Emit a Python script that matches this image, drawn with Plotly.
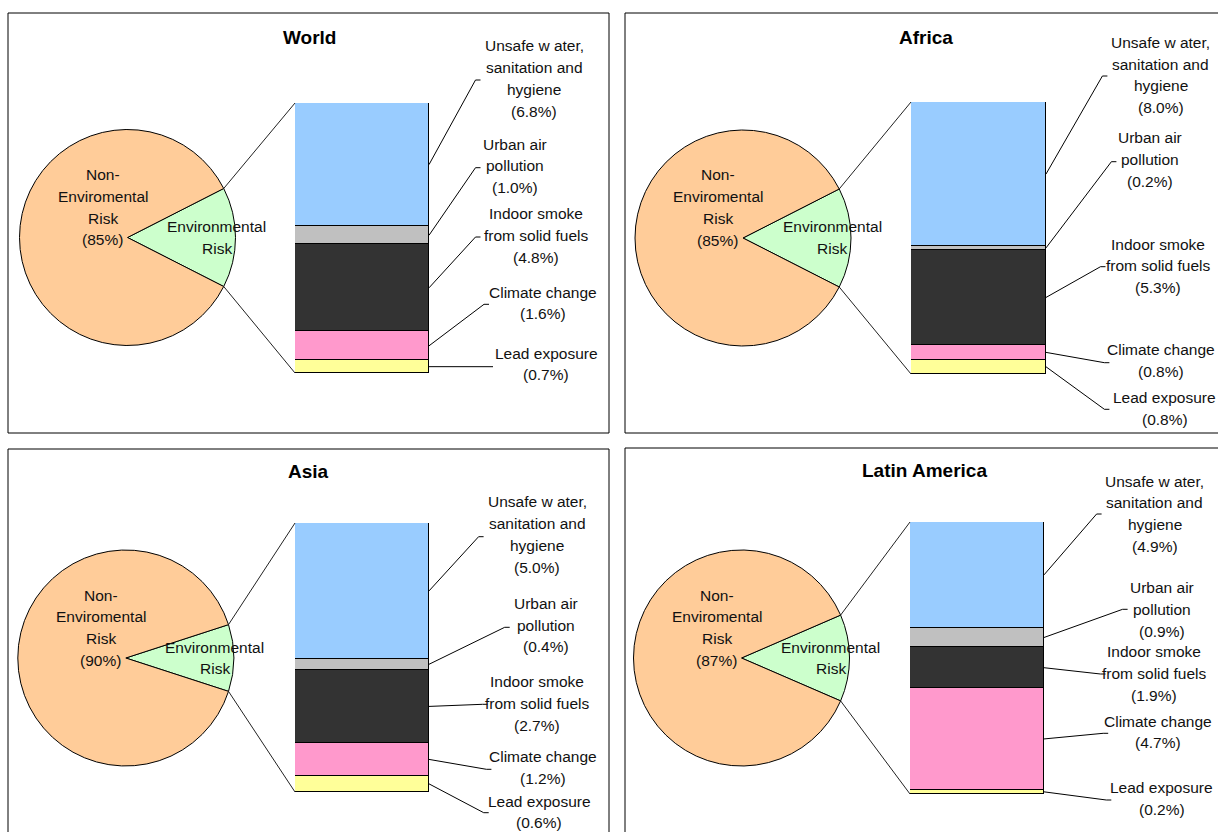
import math
import plotly.graph_objects as go

W, H = 1218, 832

# ---------------- data ----------------
regions = ["World", "Africa", "Asia", "Latin America"]
non_env = [85, 85, 90, 87]
env = [15, 15, 10, 13]
categories = ["Unsafe w ater,\nsanitation and\nhygiene", "Urban air\npollution",
              "Indoor smoke\nfrom solid fuels", "Climate change", "Lead exposure"]
unsafe_water = [6.8, 8.0, 5.0, 4.9]
urban_air = [1.0, 0.2, 0.4, 0.9]
indoor_smoke = [4.8, 5.3, 2.7, 1.9]
climate_change = [1.6, 0.8, 1.2, 4.7]
lead_exposure = [0.7, 0.8, 0.6, 0.2]

series = [unsafe_water, urban_air, indoor_smoke, climate_change, lead_exposure]
seg_colors = ["#99CCFF", "#C0C0C0", "#333333", "#FF99CC", "#FFFF99"]
pie_colors = ["#CCFFCC", "#FFCC99"]

# ---------------- layout (pixel positions) ----------------
panels = [
    dict(frame=(8, 13, 609, 433), title=(309, 38), pie=(127.5, 237.5), bar=(295, 103, 429, 373),
         lab_x=[534, 515, 536, 543, 546], lab_y=[45.7, 144, 214, 292, 353],
         lead_end=[(475.5, 80), (475.5, 167.7), (475.5, 237), (484, 304.3), (488, 366.7)]),
    dict(frame=(625, 13, 1228, 433), title=(926, 38), pie=(743, 238), bar=(911, 102, 1046, 374),
         lab_x=[1160.6, 1150, 1157.5, 1160.6, 1164.5], lab_y=[42.3, 138, 244, 350, 397.7],
         lead_end=[(1102.4, 76), (1111.4, 161.7), (1100.5, 266.7), (1104.4, 362.7), (1104.4, 409.3)]),
    dict(frame=(8, 449, 609, 840), title=(308.6, 471.7), pie=(125.8, 658), bar=(295, 523, 429, 792),
         lab_x=[537, 546, 537, 543, 539], lab_y=[501.7, 603.3, 681.7, 756.7, 801],
         lead_end=[(478.6, 536.7), (504.7, 627.3), (482.5, 704.3), (486.4, 769.3), (483.7, 812.7)]),
    dict(frame=(625, 448, 1228, 840), title=(924, 470.7), pie=(741.5, 658), bar=(910, 522, 1044, 794),
         lab_x=[1154.8, 1161.8, 1154, 1158, 1161.8], lab_y=[481, 587.7, 651.7, 721, 787.7],
         lead_end=[(1096.6, 514), (1122.6, 609.3), (1100.5, 674), (1103.2, 733.3), (1106.3, 800)]),
]
R = 108
LINE_H = 21.8
FONT = "Liberation Sans, Arial, sans-serif"
LABEL_SIZE = 15.5
TITLE_SIZE = 19


def px(x):
    return x / W


def py(y):
    return 1 - y / H


fig = go.Figure()
shapes = []
annotations = []


def add_lines(x, y, lines, size=LABEL_SIZE):
    for k, ln in enumerate(lines):
        annotations.append(dict(x=px(x), y=py(y + k * LINE_H), xref="paper", yref="paper",
                                text=ln, showarrow=False, xanchor="center", yanchor="middle",
                                font=dict(family=FONT, size=size, color="#111111")))


for i, p in enumerate(panels):
    fx0, fy0, fx1, fy1 = p["frame"]
    shapes.append(dict(type="rect", xref="paper", yref="paper", x0=px(fx0), x1=px(fx1),
                       y0=py(fy1), y1=py(fy0), line=dict(color="#000000", width=1),
                       fillcolor="rgba(0,0,0,0)", layer="below"))
    # title
    annotations.append(dict(x=px(p["title"][0]), y=py(p["title"][1]), xref="paper", yref="paper",
                            text=f"<b>{regions[i]}</b>", showarrow=False, xanchor="center",
                            yanchor="middle", font=dict(family=FONT, size=TITLE_SIZE, color="#000000")))
    # pie
    cx, cy = p["pie"]
    env_deg = 360 * env[i] / (env[i] + non_env[i])
    fig.add_trace(go.Pie(values=[env[i], non_env[i]], labels=["Environmental Risk", "Non-Enviromental Risk"],
                         sort=False, direction="clockwise", rotation=90 - env_deg / 2,
                         marker=dict(colors=pie_colors, line=dict(color="#000000", width=1)),
                         textinfo="none", hoverinfo="label+percent",
                         domain=dict(x=[px(cx - R), px(cx + R)], y=[py(cy + R), py(cy - R)])))
    add_lines(cx - 25, cy - 63, ["Non-", "Enviromental", "Risk", f"({non_env[i]}%)"])
    add_lines(cx + 89, cy - 11, ["Environmental", "Risk"])
    # bar
    bx0, by0, bx1, by1 = p["bar"]
    xa = "x" if i == 0 else f"x{i + 1}"
    ya = "y" if i == 0 else f"y{i + 1}"
    total = sum(s[i] for s in series)
    for j in reversed(range(len(series))):
        fig.add_trace(go.Bar(x=[0], y=[series[j][i]], width=1, xaxis=xa, yaxis=ya,
                             marker=dict(color=seg_colors[j], line=dict(color="#000000", width=1)),
                             name=categories[j].replace("\n", " "), hoverinfo="name+y"))
    axkey = "" if i == 0 else str(i + 1)
    fig.update_layout(**{
        f"xaxis{axkey}": dict(domain=[px(bx0), px(bx1)], range=[-0.5, 0.5], visible=False, fixedrange=True),
        f"yaxis{axkey}": dict(domain=[py(by1), py(by0)], range=[0, total], visible=False, fixedrange=True),
    })
    # connectors pie -> bar
    a = math.radians(env_deg / 2)
    ex, ey_up, ey_dn = cx + R * math.cos(a), cy - R * math.sin(a), cy + R * math.sin(a)
    for (sx, sy, tx, ty) in [(ex, ey_up, bx0, by0), (ex, ey_dn, bx0, by1)]:
        shapes.append(dict(type="line", xref="paper", yref="paper", x0=px(sx), y0=py(sy),
                           x1=px(tx), y1=py(ty), line=dict(color="#222222", width=1)))
    # labels and leaders
    cum = 0.0
    for j in range(len(series)):
        v = series[j][i]
        mid = by0 + (cum + v / 2) / total * (by1 - by0)
        cum += v
        lx, ly = p["lead_end"][j]
        path = f"M {px(bx1)},{py(mid)} L {px(lx)},{py(ly)} L {px(lx + 5)},{py(ly)}"
        shapes.append(dict(type="path", xref="paper", yref="paper", path=path,
                           line=dict(color="#000000", width=1)))
        lines = categories[j].split("\n") + [f"({v:.1f}%)"]
        add_lines(p["lab_x"][j], p["lab_y"][j], lines)

fig.update_layout(width=W, height=H, margin=dict(l=0, r=0, t=0, b=0),
                  paper_bgcolor="white", plot_bgcolor="white", showlegend=False,
                  barmode="stack", bargap=0, shapes=shapes, annotations=annotations)

fig.write_html("out.html")
